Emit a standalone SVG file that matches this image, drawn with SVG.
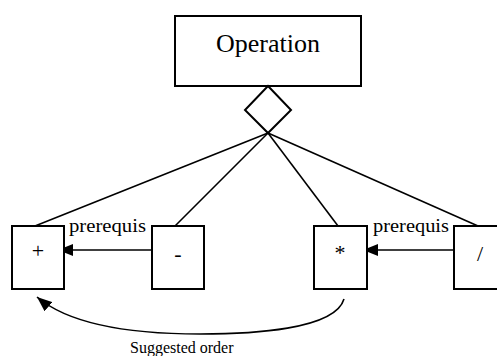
<svg xmlns="http://www.w3.org/2000/svg" width="497" height="356" viewBox="0 0 497 356">
<style>
.box{fill:#fff;stroke:#000;stroke-width:2}
.ln{fill:none;stroke:#000;stroke-width:1.6}
.t{font-family:"Liberation Serif","Times New Roman",serif;fill:#000}
</style>
<defs>
<marker id="ah" viewBox="0 0 15 12" refX="15" refY="6" markerWidth="15" markerHeight="12" markerUnits="userSpaceOnUse" orient="auto">
<path d="M0,0 L15,6 L0,12 z" fill="#000"/>
</marker>
</defs>
<rect width="497" height="356" fill="#fff"/>
<g id="connectors">
<line class="ln" x1="268" y1="133" x2="35" y2="226"/>
<line class="ln" x1="268" y1="133" x2="175" y2="226"/>
<line class="ln" x1="268" y1="133" x2="338" y2="226"/>
<line class="ln" x1="268" y1="133" x2="478" y2="226"/>
<line class="ln" x1="152" y1="250" x2="58" y2="250" marker-end="url(#ah)"/>
<line class="ln" x1="454" y1="250" x2="363" y2="250" marker-end="url(#ah)"/>
<path class="ln" d="M344,299 C335,330 250,334 200,334 C130,334 70,325 37,297" marker-end="url(#ah)"/>
<text class="t" x="69" y="232" font-size="19" textLength="77" lengthAdjust="spacingAndGlyphs">prerequis</text>
<text class="t" x="373" y="232" font-size="19" textLength="76" lengthAdjust="spacingAndGlyphs">prerequis</text>
<text class="t" x="130" y="353" font-size="16">Suggested order</text>
</g>
<g id="operation">
<rect class="box" x="175" y="16" width="186" height="70"/>
<text class="t" x="268" y="52" font-size="26" text-anchor="middle">Operation</text>
</g>
<g id="diamond">
<polygon class="box" points="268,86 291,110 268,133 245,110"/>
</g>
<g id="plus">
<rect class="box" x="12" y="226" width="52" height="63"/>
<text class="t" x="38" y="258" font-size="22" text-anchor="middle">+</text>
</g>
<g id="minus">
<rect class="box" x="152" y="226" width="52" height="63"/>
<text class="t" x="178" y="261" font-size="22" text-anchor="middle">-</text>
</g>
<g id="times">
<rect class="box" x="314" y="226" width="53" height="63"/>
<text class="t" x="340" y="260" font-size="22" text-anchor="middle">*</text>
</g>
<g id="divide">
<rect class="box" x="454" y="226" width="53" height="63"/>
<text class="t" x="480" y="261" font-size="22" text-anchor="middle">/</text>
</g>
</svg>
